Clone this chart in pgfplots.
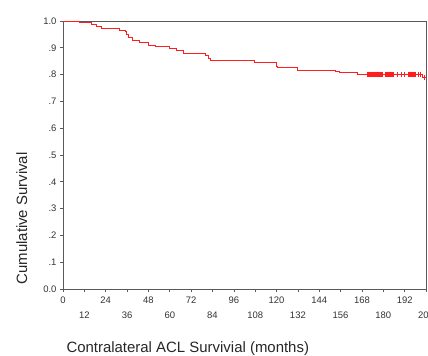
\documentclass[border=0pt]{standalone}
\usepackage{pgfplots}
\pgfplotsset{compat=1.18}
\usepackage{fontspec}
\setmainfont{Liberation Sans}
\definecolor{kmred}{RGB}{255,30,30}
\definecolor{axgray}{RGB}{90,90,90}
\begin{document}
\begin{tikzpicture}
\useasboundingbox (-63bp,-67bp) rectangle (365bp,289bp);
\begin{axis}[
  at={(0,0)}, anchor=south west,
  scale only axis, width=363bp, height=268bp,
  xmin=0, xmax=204, ymin=0, ymax=1,
  axis line style={axgray, line width=0.8pt},
  tick style={axgray, line width=0.6pt},
  tick align=outside, major tick length=3bp,
  xtick pos=bottom, ytick pos=left,
  xtick={0,24,48,72,96,120,144,168,192},
  xticklabels={0,24,48,72,96,120,144,168,192},
  extra x ticks={12,36,60,84,108,132,156,180,204},
  extra x tick labels={12,36,60,84,108,132,156,180,204},
  extra x tick style={tick label style={yshift=-15bp}},
  ytick={0,0.1,0.2,0.3,0.4,0.5,0.6,0.7,0.8,0.9,1.0},
  yticklabels={0.0,.1,.2,.3,.4,.5,.6,.7,.8,.9,1.0},
  tick label style={font=\fontsize{9.5}{10}\selectfont, text=black!80},
  /pgf/number format/assume math mode=true,
  xticklabel style={yshift=-1bp},
  clip=false,
]
\addplot[const plot, kmred, line width=0.9pt] coordinates {
(0,1.0) (8,0.997) (9.5,0.994) (16,0.986) (19,0.979) (21.7,0.973) (31.5,0.966) (35,0.96)
(35.8,0.95) (36.5,0.939) (39,0.927) (43,0.920) (48,0.908) (51.7,0.904)
(60,0.896) (64,0.889) (67.6,0.879) (79.8,0.871) (81.6,0.859) (83,0.854)
(96,0.852) (107.7,0.844) (120,0.83) (120.5,0.826) (131.6,0.817) (153,0.813)
(155.6,0.807) (165.3,0.802) (202,0.79) (204,0.79)
};
\addplot[only marks, mark=|, mark size=2.5bp, kmred, line width=0.9pt] coordinates {
(171,0.802) (171.5,0.802) (172,0.802) (172.5,0.802) (173,0.802) (173.5,0.802)
(174,0.802) (174.5,0.802) (175,0.802) (175.5,0.802) (176,0.802) (176.5,0.802)
(177,0.802) (177.5,0.802) (178,0.802) (178.5,0.802) (179,0.802) (179.5,0.802)
(181,0.802) (181.5,0.802) (182,0.802) (182.5,0.802) (183,0.802) (183.5,0.802)
(184,0.802) (184.5,0.802) (185,0.802) (185.5,0.802)
(188,0.802) (190,0.802) (192,0.802)
(194,0.802) (194.5,0.802) (195,0.802) (195.5,0.802) (196,0.802) (196.5,0.802)
(197,0.802) (197.5,0.802) (198,0.802)
(199.5,0.802) (201,0.802) (203,0.79)
};
\end{axis}
\node[rotate=90, anchor=base west, font=\fontsize{15}{18}\selectfont, text=black!85] at (-36bp,1bp) {Cumulative Survival};
\node[anchor=base west, font=\fontsize{15}{18}\selectfont, text=black!85] at (0bp,-63bp) {Contralateral ACL Survivial (months)};
\end{tikzpicture}
\end{document}
